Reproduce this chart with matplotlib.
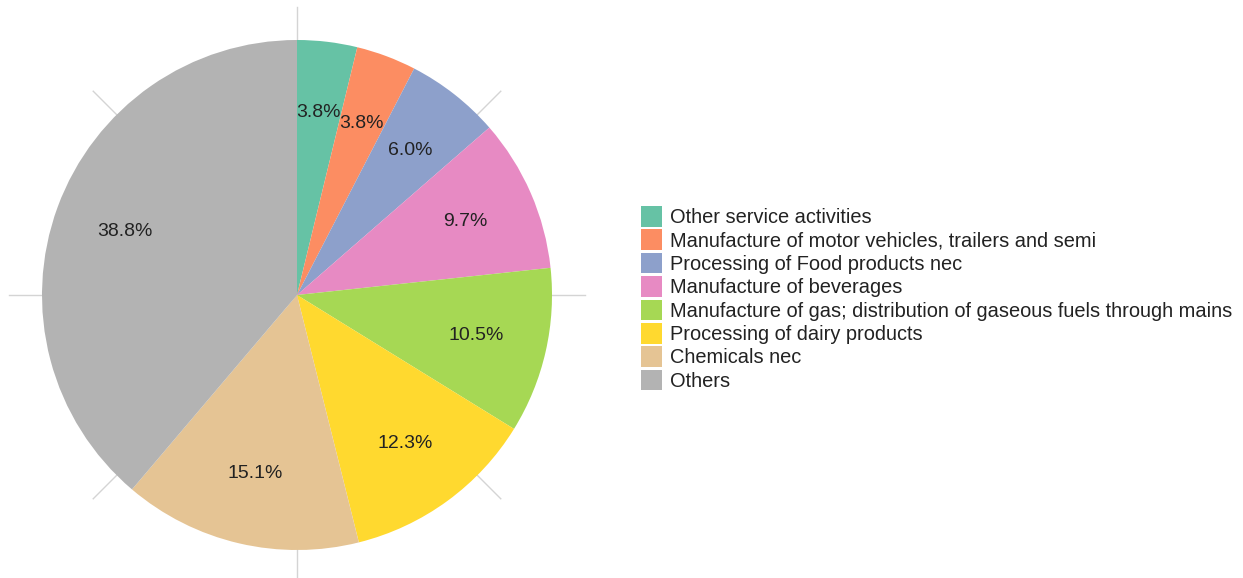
import matplotlib
matplotlib.use("Agg")
import matplotlib.pyplot as plt
import numpy as np

categories = [
    "Other service activities",
    "Manufacture of motor vehicles, trailers and semi",
    "Processing of Food products nec",
    "Manufacture of beverages",
    "Manufacture of gas; distribution of gaseous fuels through mains",
    "Processing of dairy products",
    "Chemicals nec",
    "Others",
]
shares = [3.8, 3.8, 6.0, 9.7, 10.5, 12.3, 15.1, 38.8]
colors = ["#66C2A5", "#FC8D62", "#8DA0CB", "#E78AC3", "#A6D854", "#FFD92F", "#E5C494", "#B3B3B3"]

plt.rcParams['font.family'] = ['Liberation Sans', 'DejaVu Sans']

W, H = 1243, 578
fig = plt.figure(figsize=(W / 100, H / 100), dpi=100)
ax = fig.add_axes([0, 0, 1, 1])
ax.set_xlim(0, W)
ax.set_ylim(0, H)
ax.set_aspect('equal')
ax.axis('off')

cx, cy, R = 297, H - 295, 255

# polar grid lines (under the pie)
for a in np.arange(0, 360, 45):
    t = np.deg2rad(a)
    ax.plot([cx, cx + 1.13 * R * np.cos(t)], [cy, cy + 1.13 * R * np.sin(t)],
            color="#D4D4D4", lw=1.0, zorder=0)

wedges, texts, autotexts = ax.pie(
    shares, colors=colors, center=(cx, cy), radius=R, startangle=90,
    counterclock=False, autopct=lambda p: f"{p:.1f}%", pctdistance=0.72,
    textprops=dict(fontsize=14, color="#222222"),
    wedgeprops=dict(linewidth=0),
)
for w in wedges:
    w.set_zorder(1)
for t in autotexts:
    t.set_zorder(2)

ax.set_xlim(0, W)
ax.set_ylim(0, H)

leg = ax.legend(wedges, categories, loc="upper left",
                bbox_to_anchor=(641 / W, 1 - 206 / H), bbox_transform=fig.transFigure,
                frameon=False, fontsize=14.4, handlelength=1.05, handleheight=1.2,
                handletextpad=0.4, labelspacing=0.12, borderaxespad=0, borderpad=0)
for t in leg.get_texts():
    t.set_color("#222222")

fig.savefig("out.png", dpi=100)
